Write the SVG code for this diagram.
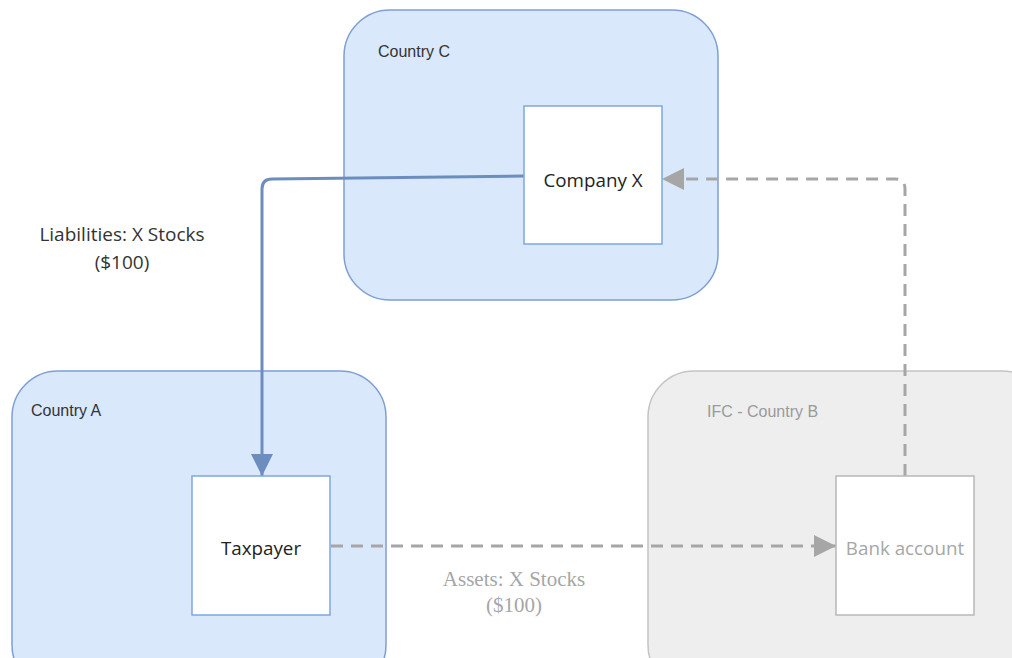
<svg xmlns="http://www.w3.org/2000/svg" width="1012" height="658" viewBox="0 0 1012 658">
<defs>
<style>
.cb{fill:#dae8fc;stroke:#7f9fd3;stroke-width:1.5}
.cg{fill:#eeeeee;stroke:#c4c4c4;stroke-width:1.5}
.nb{fill:#ffffff;stroke:#7ea6e0;stroke-width:1.5}
.ng{fill:#ffffff;stroke:#b8b8b8;stroke-width:1.5}
.ct{font-family:"Liberation Sans",Arial,sans-serif;font-size:16px;fill:#333333}
.nt{font-family:"Open Sans","Liberation Sans",sans-serif;font-size:18.8px;text-anchor:middle;fill:#222222}
.lab{font-family:"Open Sans","Liberation Sans",sans-serif;font-size:19px;text-anchor:middle;fill:#333333}
.labs{font-family:"Liberation Serif","Times New Roman",serif;font-size:21px;text-anchor:middle;fill:#a6a6a6}
.blue{fill:none;stroke:#6c8ebf;stroke-width:3}
.gray{fill:none;stroke:#a6a6a6;stroke-width:3;stroke-dasharray:12 8}
</style>
<marker id="ab" markerUnits="userSpaceOnUse" markerWidth="24" markerHeight="24" viewBox="0 0 24 24" refX="22" refY="12" orient="auto"><path d="M0,1 L22,12 L0,23 Z" fill="#6c8ebf"/></marker>
<marker id="ag" markerUnits="userSpaceOnUse" markerWidth="24" markerHeight="24" viewBox="0 0 24 24" refX="22" refY="12" orient="auto"><path d="M0,1 L22,12 L0,23 Z" fill="#a6a6a6"/></marker>
</defs>
<rect width="1012" height="658" fill="#ffffff"/>
<g id="country-c"><rect class="cb" x="344" y="10" width="374" height="290" rx="46"/><text class="ct" x="378" y="57">Country C</text></g>
<g id="country-a"><rect class="cb" x="12" y="371" width="374" height="320" rx="46"/><text class="ct" x="31" y="416">Country A</text></g>
<g id="country-b"><rect class="cg" x="648" y="371" width="400" height="320" rx="46"/><text class="ct" x="707" y="417" style="fill:#9a9a9a">IFC - Country B</text></g>
<g id="connectors">
<path class="blue" d="M524,176 L272,179 Q262,179 262,189 L262,476" marker-end="url(#ab)"/>
<path class="gray" d="M331,546 L836,546" marker-end="url(#ag)"/>
<path class="gray" d="M905,476 L905,189 Q905,179 895,179 L662,179" marker-end="url(#ag)"/>
</g>
<g id="company-x"><rect class="nb" x="524" y="106" width="138" height="138"/><text class="nt" x="593" y="187">Company X</text></g>
<g id="taxpayer"><rect class="nb" x="192" y="476" width="138" height="139"/><text class="nt" x="261" y="555">Taxpayer</text></g>
<g id="bank-account"><rect class="ng" x="836" y="476" width="138" height="139"/><text class="nt" x="905" y="555" style="fill:#a6a6a6">Bank account</text></g>
<g id="labels">
<text class="lab" x="122" y="241">Liabilities: X Stocks</text>
<text class="lab" x="122" y="269">($100)</text>
<text class="labs" x="514" y="586">Assets: X Stocks</text>
<text class="labs" x="514" y="612">($100)</text>
</g>
</svg>
